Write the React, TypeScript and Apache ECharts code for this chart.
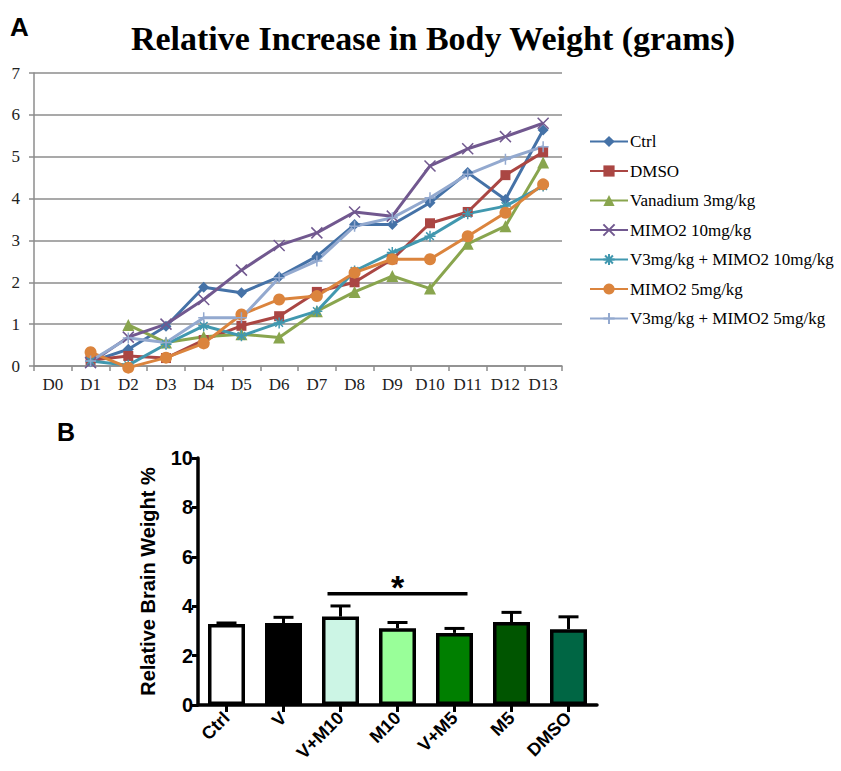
import React, { useEffect, useRef } from "react";
import * as echarts from "echarts";

// ---- Panel A data ----
const days = ["D0", "D1", "D2", "D3", "D4", "D5", "D6", "D7", "D8", "D9", "D10", "D11", "D12", "D13"];
const ctrl = [null, 0.1, 0.4, 0.95, 1.88, 1.75, 2.13, 2.62, 3.38, 3.38, 3.9, 4.62, 3.98, 5.64];
const dmso = [null, 0.14, 0.24, 0.19, 0.62, 0.96, 1.19, 1.77, 2.0, 2.55, 3.41, 3.68, 4.56, 5.11];
const vanadium = [null, null, 0.98, 0.56, 0.7, 0.76, 0.68, 1.31, 1.77, 2.15, 1.85, 2.92, 3.34, 4.86];
const mimo10 = [null, 0.08, 0.69, 1.0, 1.59, 2.29, 2.88, 3.18, 3.68, 3.58, 4.78, 5.19, 5.48, 5.8];
const v3mimo10 = [null, 0.12, 0.02, 0.52, 0.96, 0.72, 1.03, 1.31, 2.27, 2.71, 3.1, 3.64, 3.82, 4.3];
const mimo5 = [null, 0.33, -0.04, 0.2, 0.54, 1.23, 1.59, 1.67, 2.23, 2.55, 2.55, 3.1, 3.66, 4.34];
const v3mimo5 = [null, 0.12, 0.67, 0.56, 1.15, 1.15, 2.11, 2.51, 3.34, 3.54, 4.02, 4.58, 4.94, 5.24];
const lineNames = [
  "Ctrl",
  "DMSO",
  "Vanadium 3mg/kg",
  "MIMO2 10mg/kg",
  "V3mg/kg + MIMO2 10mg/kg",
  "MIMO2 5mg/kg",
  "V3mg/kg + MIMO2 5mg/kg",
];
const lineValues = [ctrl, dmso, vanadium, mimo10, v3mimo10, mimo5, v3mimo5];
const lineColors = ["#4572A7", "#AA4643", "#89A54E", "#71588F", "#4198AF", "#DB843D", "#93A9CF"];

// ---- Panel B data ----
const groups = ["Ctrl", "V", "V+M10", "M10", "V+M5", "M5", "DMSO"];
const brainMean = [3.28, 3.32, 3.58, 3.11, 2.92, 3.36, 3.07];
const brainErr = [0.04, 0.23, 0.43, 0.23, 0.18, 0.39, 0.5];
const barColors = ["#ffffff", "#000000", "#ccf5e5", "#99ff99", "#007f00", "#005500", "#006644"];
const sigPair = [2, 4];
const sigLevel = 4.5;

const X_PATH = "path://M0,0L10,10M10,0L0,10";
const STAR_PATH = "path://M5,0L5,10M0,5L10,5M1.5,1.5L8.5,8.5M8.5,1.5L1.5,8.5";
const PLUS_PATH = "path://M5,0L5,10M0,5L10,5";
const symbols = ["diamond", "rect", "triangle", X_PATH, STAR_PATH, "circle", PLUS_PATH];
const symbolSizes = [11, 10, 12, 11, 11, 12, 11];

const SERIF = "'Liberation Serif', 'DejaVu Serif', serif";
const SANS = "'Liberation Sans', Arial, sans-serif";

export default function App() {
  const ref = useRef<HTMLDivElement>(null);
  useEffect(() => {
    if (!ref.current) return;
    const chart = echarts.init(ref.current, undefined, { renderer: "svg" });

    const lineSeries = lineNames.map((name, i) => {
      const stroked = typeof symbols[i] === "string" && symbols[i].startsWith("path://");
      return {
        name,
        type: "line",
        xAxisIndex: 0,
        yAxisIndex: 0,
        data: lineValues[i],
        symbol: symbols[i],
        symbolSize: symbolSizes[i],
        showAllSymbol: true,
        connectNulls: false,
        clip: false,
        lineStyle: { color: lineColors[i], width: 3 },
        itemStyle: stroked
          ? { color: lineColors[i], borderColor: lineColors[i], borderWidth: 1.5 }
          : { color: lineColors[i] },
        z: 3,
      };
    });

    const option: any = {
      animation: false,
      backgroundColor: "#ffffff",
      graphic: [
        {
          type: "text",
          x: 10,
          y: 14,
          style: { text: "A", font: `bold 26px ${SANS}`, fill: "#000" },
        },
        {
          type: "text",
          x: 433,
          y: 38,
          style: {
            text: "Relative Increase in Body Weight (grams)",
            font: `bold 34px ${SERIF}`,
            fill: "#000",
            textAlign: "center",
            textVerticalAlign: "middle",
          },
        },
        {
          type: "text",
          x: 57,
          y: 419,
          style: { text: "B", font: `bold 25px ${SANS}`, fill: "#000" },
        },
      ],
      legend: {
        orient: "vertical",
        left: 584,
        top: 128,
        itemWidth: 38,
        itemHeight: 14,
        itemGap: 12.5,
        data: lineNames,
        textStyle: { fontFamily: SERIF, fontSize: 17, color: "#000", padding: [0, 0, 0, -3] },
      },
      grid: [
        { left: 34, top: 73, width: 528, height: 293, containLabel: false },
        { left: 198, top: 458, width: 399, height: 247, containLabel: false },
      ],
      xAxis: [
        {
          type: "category",
          gridIndex: 0,
          data: days,
          boundaryGap: true,
          axisLine: { show: true, lineStyle: { color: "#8c8c8c", width: 1.5 } },
          axisTick: { show: true, interval: 0, length: 5, lineStyle: { color: "#8c8c8c", width: 1.5 } },
          axisLabel: { fontFamily: SERIF, fontSize: 17, color: "#222", margin: 10, interval: 0 },
          splitLine: { show: false },
        },
        {
          type: "category",
          gridIndex: 1,
          data: groups,
          boundaryGap: true,
          axisLine: { show: true, lineStyle: { color: "#000", width: 3.5 } },
          axisTick: { show: true, alignWithLabel: true, length: 7, lineStyle: { color: "#000", width: 3 } },
          axisLabel: {
            fontFamily: SANS,
            fontWeight: "bold",
            fontSize: 18,
            color: "#000",
            rotate: 45,
            margin: 10,
            interval: 0,
          },
        },
      ],
      yAxis: [
        {
          type: "value",
          gridIndex: 0,
          min: 0,
          max: 7,
          interval: 1,
          axisLine: { show: true, lineStyle: { color: "#8c8c8c", width: 1.5 } },
          axisTick: { show: true, length: 5, lineStyle: { color: "#8c8c8c", width: 1.5 } },
          axisLabel: { fontFamily: SERIF, fontSize: 17, color: "#222", margin: 14 },
          splitLine: { show: true, lineStyle: { color: "#8c8c8c", width: 1.5 } },
        },
        {
          type: "value",
          gridIndex: 1,
          min: 0,
          max: 10,
          interval: 2,
          name: "Relative Brain Weight %",
          nameLocation: "middle",
          nameGap: 40,
          nameRotate: 90,
          nameTextStyle: { fontFamily: SANS, fontWeight: "bold", fontSize: 20, color: "#000" },
          axisLine: { show: true, lineStyle: { color: "#000", width: 3.5 } },
          axisTick: { show: true, length: 6, lineStyle: { color: "#000", width: 3 } },
          axisLabel: { fontFamily: SANS, fontWeight: "bold", fontSize: 20, color: "#000", margin: 5 },
          splitLine: { show: false },
        },
      ],
      series: [
        ...lineSeries,
        {
          name: "brain",
          type: "bar",
          xAxisIndex: 1,
          yAxisIndex: 1,
          barWidth: 37,
          data: brainMean.map((v, i) => ({
            value: v,
            itemStyle: { color: barColors[i], borderColor: "#000", borderWidth: 3.5 },
          })),
          z: 2,
        },
        {
          name: "err",
          type: "custom",
          xAxisIndex: 1,
          yAxisIndex: 1,
          data: brainMean.map((v, i) => [i, v, brainErr[i]]),
          encode: { x: 0, y: 1 },
          z: 3,
          renderItem: (params: any, api: any) => {
            const x = api.value(0);
            const v = api.value(1);
            const e = api.value(2);
            const base = api.coord([x, v]);
            const top = api.coord([x, v + e]);
            const hw = 10;
            return {
              type: "group",
              children: [
                {
                  type: "line",
                  shape: { x1: base[0], y1: base[1], x2: top[0], y2: top[1] },
                  style: { stroke: "#000", lineWidth: 3 },
                },
                {
                  type: "line",
                  shape: { x1: top[0] - hw, y1: top[1], x2: top[0] + hw, y2: top[1] },
                  style: { stroke: "#000", lineWidth: 3 },
                },
              ],
            };
          },
        },
        {
          name: "sig",
          type: "custom",
          xAxisIndex: 1,
          yAxisIndex: 1,
          data: [[sigPair[0], sigPair[1], sigLevel]],
          encode: { x: [0, 1], y: 2 },
          z: 4,
          renderItem: (params: any, api: any) => {
            const a = api.coord([api.value(0), api.value(2)]);
            const b = api.coord([api.value(1), api.value(2)]);
            return {
              type: "group",
              children: [
                {
                  type: "line",
                  shape: { x1: a[0] - 13, y1: a[1], x2: b[0] + 13, y2: b[1] },
                  style: { stroke: "#000", lineWidth: 3.5 },
                },
                {
                  type: "text",
                  x: (a[0] + b[0]) / 2,
                  y: a[1] - 7,
                  style: {
                    text: "*",
                    font: `bold 34px ${SANS}`,
                    fill: "#000",
                    textAlign: "center",
                    textVerticalAlign: "middle",
                  },
                },
              ],
            };
          },
        },
      ],
    };
    chart.setOption(option);
    return () => chart.dispose();
  }, []);
  return (
    <div
      ref={ref}
      style={{ position: "absolute", left: 0, top: 0, width: 841, height: 771 }}
    />
  );
}
